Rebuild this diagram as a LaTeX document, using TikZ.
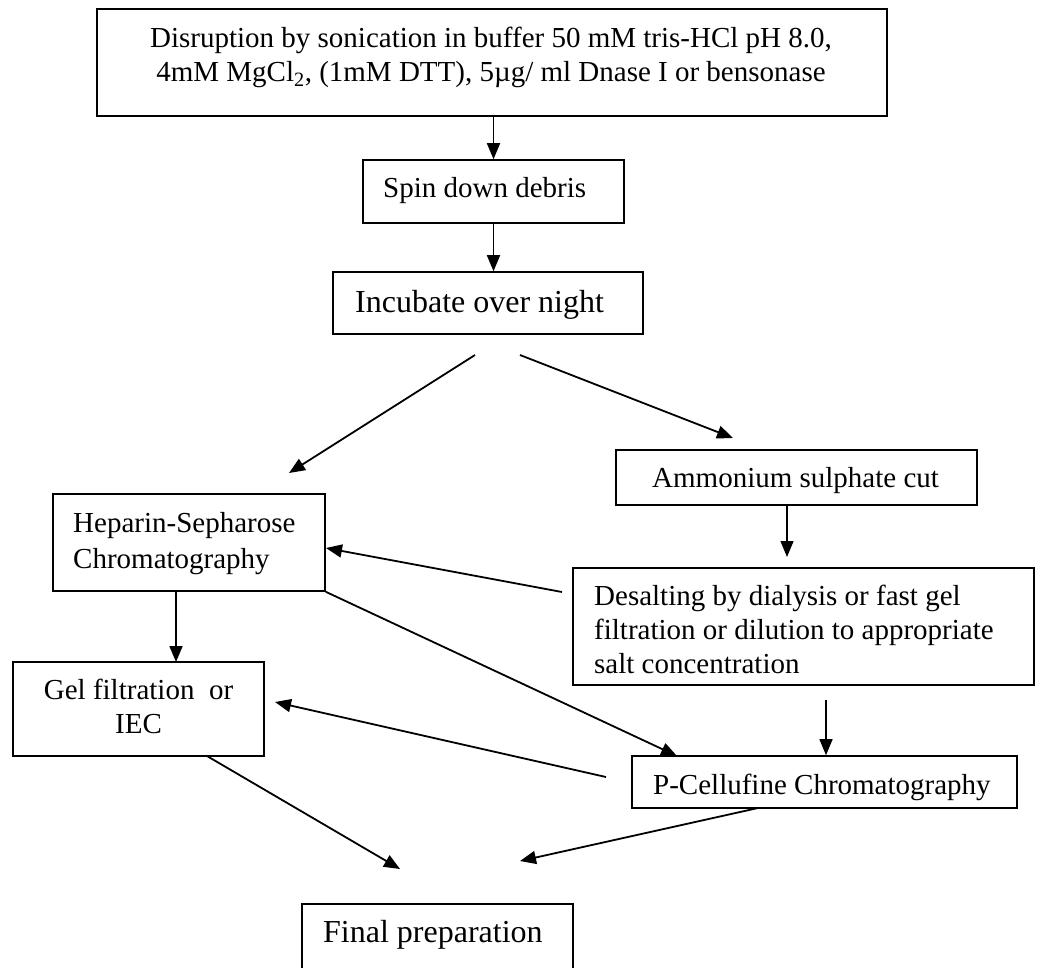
\documentclass[tikz,border=0pt]{standalone}
\usepackage{fontspec}
\setmainfont{Liberation Serif}
\usetikzlibrary{arrows.meta,calc}
\tikzset{
  box/.style={draw=black, line width=1.6pt, inner sep=0pt, rectangle},
  txt/.style={inner sep=0pt, anchor=base west, font=\fontsize{29}{34}\selectfont},
  bigtxt/.style={inner sep=0pt, anchor=base west, font=\fontsize{32}{36}\selectfont},
  arr/.style={line width=1.8pt, -{Triangle[length=16pt,width=13pt]}},
  thinarr/.style={line width=1.3pt, -{Triangle[length=16pt,width=13pt]}}
}
\begin{document}
\begin{tikzpicture}[x=1pt,y=-1pt]
\useasboundingbox (0,0) rectangle (1040,967);
\clip (0,0) rectangle (1040,967);
\fill[white] (0,0) rectangle (1040,967);
% boxes
\node[box, minimum width=790pt, minimum height=107pt] (b1) at (492,62.5) {};
\node[box, minimum width=261pt, minimum height=63pt] (b2) at (493.5,191.5) {};
\node[box, minimum width=310pt, minimum height=62pt] (b3) at (488,303) {};
\node[box, minimum width=361pt, minimum height=55pt] (b4) at (796.5,477.5) {};
\node[box, minimum width=272pt, minimum height=97pt] (b5) at (189,542.5) {};
\node[box, minimum width=461pt, minimum height=117pt] (b6) at (803.5,626.5) {};
\node[box, minimum width=251pt, minimum height=94pt] (b7) at (138.5,709) {};
\node[box, minimum width=385pt, minimum height=52pt] (b8) at (824.5,782) {};
\node[box, minimum width=271pt, minimum height=96pt] (b9) at (437.5,952) {};
% texts
\node[txt, anchor=base] (t1) at (491,47.5)
  {\begin{tabular}[t]{@{}c@{}}Disruption by sonication in buffer 50 mM tris-HCl pH 8.0,\\
   4mM MgCl\textsubscript{2}, (1mM DTT), 5µg/ ml Dnase I or bensonase\end{tabular}};
\node[txt] (t2) at (383,197.6) {Spin down debris};
\node[bigtxt] (t3) at (355,312.5) {Incubate over night};
\node[txt] (t4) at (652,487.6) {Ammonium sulphate cut};
\node[txt, font=\fontsize{29}{35.5}\selectfont] (t5) at (73,532.6)
  {\begin{tabular}[t]{@{}l@{}}Heparin-Sepharose\\Chromatography\end{tabular}};
\node[txt] (t6) at (594,605.6)
  {\begin{tabular}[t]{@{}l@{}}Desalting by dialysis or fast gel\\filtration or dilution to appropriate\\salt concentration\end{tabular}};
\node[txt, anchor=base] (t7) at (138.5,699.6)
  {\begin{tabular}[t]{@{}c@{}}Gel filtration\ \ or\\IEC\end{tabular}};
\node[txt] (t8) at (653,794.6) {P-Cellufine Chromatography};
\node[bigtxt] (t9) at (323,942.5) {Final preparation};
% free ends
\coordinate (c3s) at (475,355);
\coordinate (c3e) at (289,473);
\coordinate (c4s) at (520,355);
\coordinate (c4e) at (733,438);
\coordinate (c5s) at (787,505);
\coordinate (c5e) at (787,557);
\coordinate (c6s) at (562,592);
\coordinate (c6e) at (326,548);
\coordinate (c7s) at (176,591);
\coordinate (c7e) at (176,662);
\coordinate (c8e) at (677,756);
\coordinate (c9s) at (826,700);
\coordinate (c10s) at (606,777);
\coordinate (c10e) at (275,702);
\coordinate (c11s) at (207,756);
\coordinate (c11e) at (400,869);
\coordinate (c12s) at (758,808);
\coordinate (c12e) at (520,861);
% connectors
\draw[arr] (b2.north |- b1.south) -- (b2.north);
\draw[arr] (b2.south) -- (b2.south |- b3.north);
\draw[arr] (c3s) -- (c3e);
\draw[arr] (c4s) -- (c4e);
\draw[thinarr] (c5s) -- (c5e);
\draw[arr] (c6s) -- (c6e);
\draw[arr] (c7s) -- (c7e);
\draw[arr] (b5.south east) -- (c8e);
\draw[thinarr] (c9s) -- (c9s |- b8.north);
\draw[arr] (c10s) -- (c10e);
\draw[arr] (c11s) -- (c11e);
\draw[arr] (c12s) -- (c12e);
\end{tikzpicture}
\end{document}
